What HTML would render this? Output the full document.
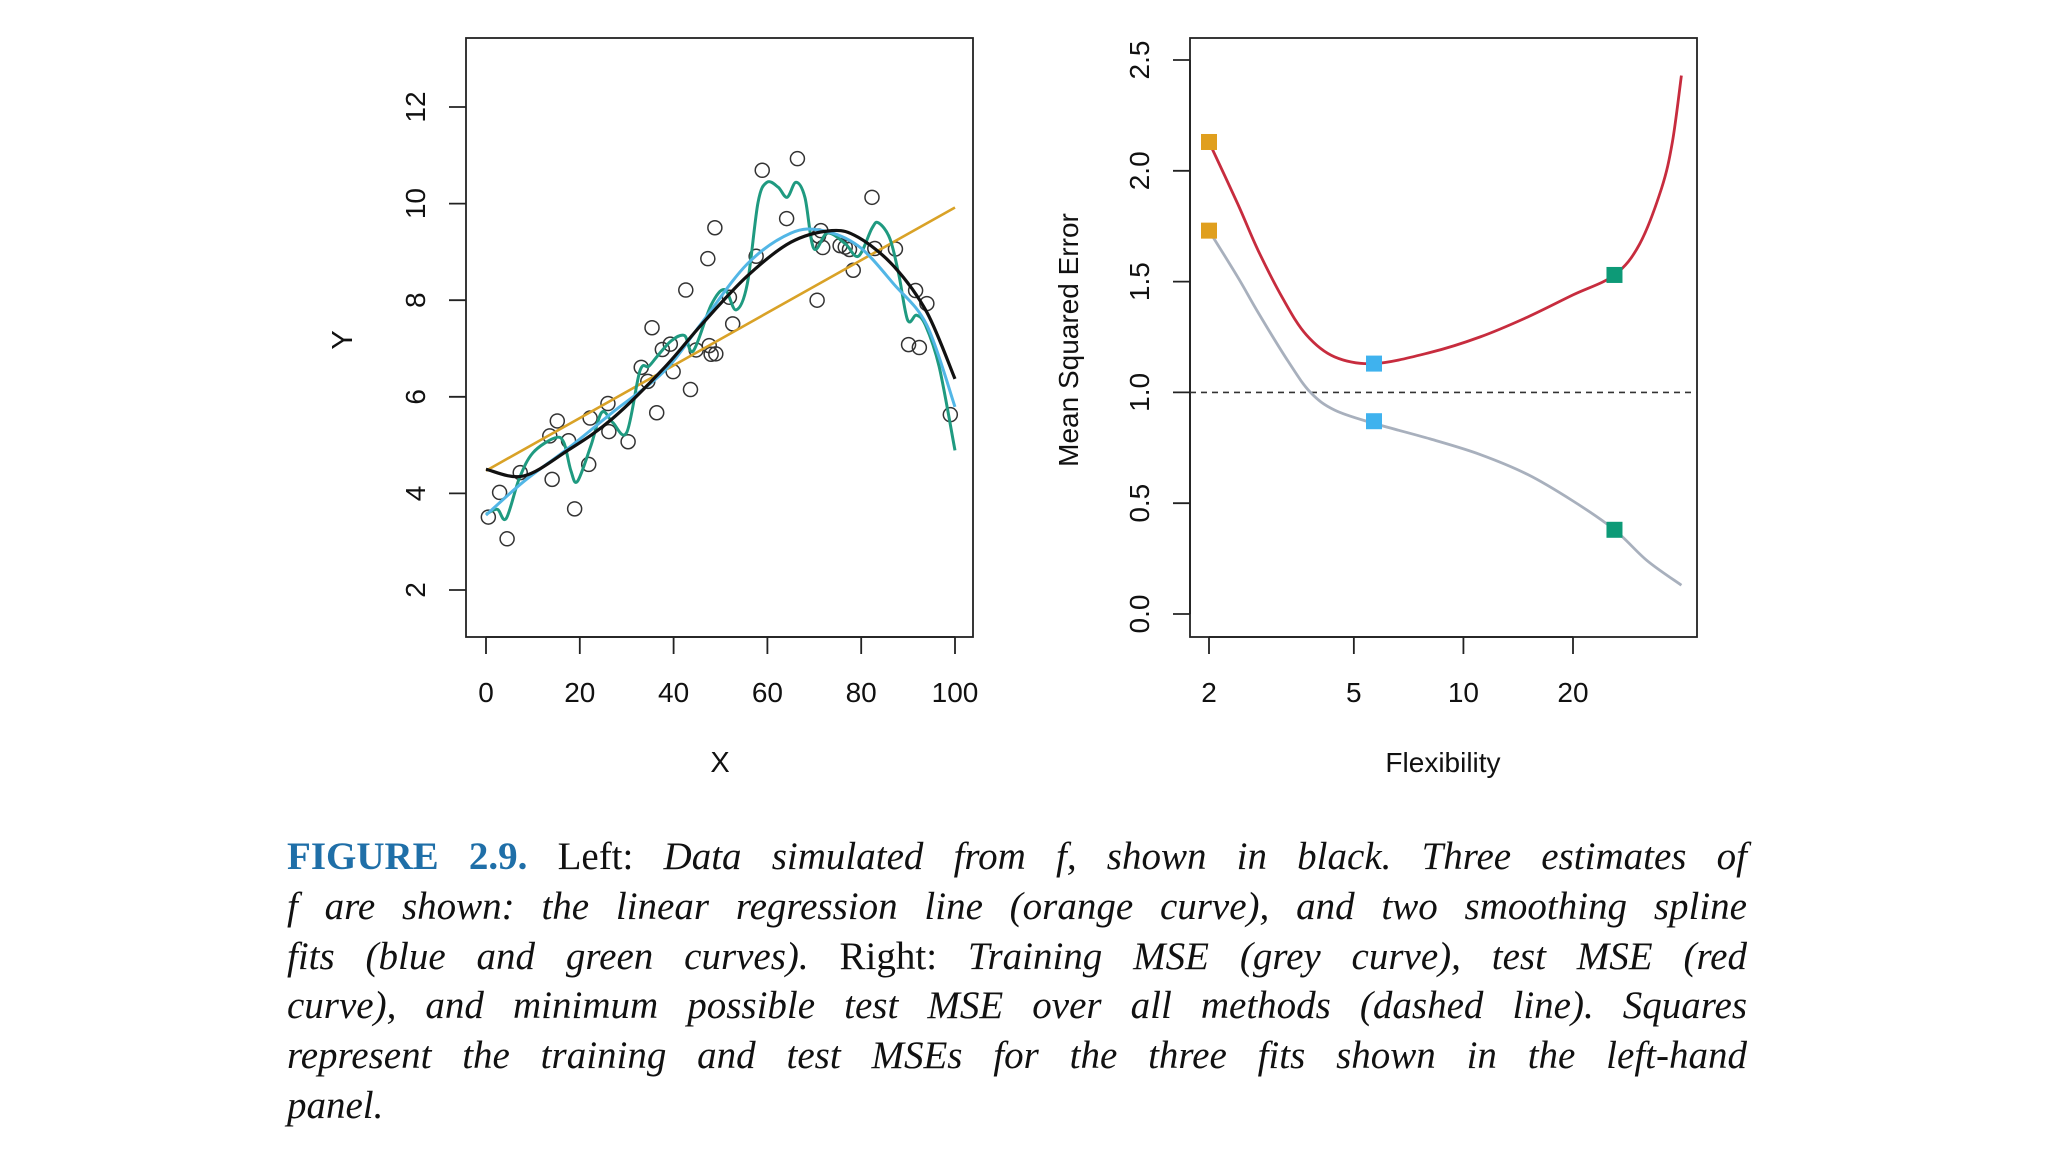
<!DOCTYPE html>
<html><head><meta charset="utf-8">
<style>
html,body{margin:0;padding:0;background:#fff;}
body{width:2048px;height:1152px;position:relative;overflow:hidden;}
svg{position:absolute;left:0;top:0;}
.cap{position:absolute;left:287px;width:1460px;font-family:"Liberation Serif",serif;font-size:39px;color:#111;}
.cap div{height:49.8px;line-height:49.8px;text-align:justify;text-align-last:justify;white-space:nowrap;}
.cap div.last{text-align-last:left;}
.cap i{font-style:italic;}
.fig{color:#1f6fa8;font-weight:bold;}
</style></head><body>
<svg id="chart" width="2048" height="1152"></svg>
<div class="cap" style="top:832px">
<div><span class="fig">FIGURE 2.9.</span> Left: <i>Data simulated from f, shown in black. Three estimates of</i></div>
<div><i>f are shown: the linear regression line (orange curve), and two smoothing spline</i></div>
<div><i>fits (blue and green curves).</i> Right: <i>Training MSE (grey curve), test MSE (red</i></div>
<div><i>curve), and minimum possible test MSE over all methods (dashed line). Squares</i></div>
<div><i>represent the training and test MSEs for the three fits shown in the left-hand</i></div>
<div class="last"><i>panel.</i></div>
</div>
<script>
// ---- Left panel data ----
const ptX=[0.5,2.9,4.5,7.3,13.6,14.1,15.2,17.6,18.9,21.9,22.2,26,26.2,30.3,33.1,34.5,35.4,36.4,37.6,39.3,39.9,42.6,43.6,44.8,47.3,47.6,48,48.8,49,51.9,52.6,57.6,58.9,64.1,66.4,70.6,70.9,71.4,71.8,75.5,76.6,77.5,78.3,82.3,82.9,87.3,90.1,91.6,92.4,94,99];
const ptY=[3.51,4.02,3.06,4.43,5.19,4.29,5.5,5.09,3.68,4.6,5.56,5.86,5.28,5.07,6.61,6.32,7.43,5.67,6.98,7.09,6.52,8.21,6.15,6.97,8.86,7.06,6.88,9.5,6.89,8.06,7.51,8.91,10.69,9.69,10.93,8.0,9.33,9.44,9.09,9.13,9.1,9.05,8.62,10.13,9.07,9.06,7.08,8.2,7.02,7.93,5.63];
const trueX=[0,8,17.6,27,38,46,55.7,65,73.7,79.4,87,94,100];
const trueY=[4.5,4.36,4.9,5.55,6.6,7.5,8.5,9.2,9.44,9.3,8.7,7.75,6.37];
const linX=[0,100];
const linY=[4.47,9.92];
const blueX=[0,8.1,17.6,27,38,46,55.7,65,71.8,79.4,87,94,100];
const blueY=[3.55,4.25,4.94,5.68,6.53,7.53,8.75,9.39,9.44,9.12,8.33,7.48,5.79];
const greenX=[0,2.4,4.3,7.1,10,14.7,16.6,18.1,19.5,22.4,24.7,27,30,32.8,34.7,36.6,39.5,42.3,44.2,48,50.9,53.3,55.7,58,59.9,62.3,64.2,66.1,68,69.9,72.8,76.6,79.4,82.3,83.7,86.1,88,89.9,91.8,93.7,96.6,100];
const greenY=[3.57,3.67,3.48,4.31,4.84,5.15,5.05,4.47,4.25,5.0,5.68,5.47,5.26,6.53,6.63,6.85,7.16,7.27,6.95,7.9,8.22,7.8,8.33,10.02,10.44,10.34,10.13,10.44,10.13,9.07,9.39,9.17,8.91,9.49,9.6,9.28,8.54,7.59,7.69,7.48,6.63,4.89];
const leftXTicks=[0,20,40,60,80,100];
const leftYTicks=[2,4,6,8,10,12];
// ---- Right panel data ----
const testDf=[2,2.4,2.73,3.2,3.7,4.43,5.68,8.1,11.1,15,20,26,30.5,35,37.5,39.7];
const testMse=[2.13,1.85,1.64,1.42,1.26,1.16,1.13,1.18,1.25,1.34,1.44,1.53,1.67,1.92,2.13,2.43];
const trainDf=[2,2.4,2.73,3.3,3.8,4.43,5.68,8.1,11.1,15,20,26,32,39.7];
const trainMse=[1.73,1.52,1.36,1.14,1.0,0.92,0.86,0.79,0.72,0.63,0.51,0.38,0.24,0.13];
const sqDf=[2,5.68,26];
const sqTest=[2.13,1.13,1.53];
const sqTrain=[1.73,0.87,0.38];
const sqColors=['#e09f1e','#3fb2ee','#0d9a77'];
const minMse=[1.0];
const rightXTicks=[2,5,10,20];
const rightYTicks=[0.0,0.5,1.0,1.5,2.0,2.5];

const NS='http://www.w3.org/2000/svg';
const svg=document.getElementById('chart');
function mk(tag,attrs,parent){const e=document.createElementNS(NS,tag);for(const k in attrs)e.setAttribute(k,attrs[k]);(parent||svg).appendChild(e);return e;}
function txt(s,x,y,size,rot,parent){const t=mk('text',{x:x,y:y,'font-family':'Liberation Sans, sans-serif','font-size':size,'text-anchor':'middle',fill:'#111'},parent);if(rot)t.setAttribute('transform','rotate(-90 '+x+' '+y+')');t.textContent=s;return t;}
function path(xs,ys,fx,fy){const P=xs.map((x,i)=>[fx(x),fy(ys[i])]);let d='M'+P[0][0].toFixed(1)+','+P[0][1].toFixed(1);
 for(let i=0;i<P.length-1;i++){const p0=P[Math.max(0,i-1)],p1=P[i],p2=P[i+1],p3=P[Math.min(P.length-1,i+2)];
 const c1=[p1[0]+(p2[0]-p0[0])/6,p1[1]+(p2[1]-p0[1])/6],c2=[p2[0]-(p3[0]-p1[0])/6,p2[1]-(p3[1]-p1[1])/6];
 d+=' C'+c1[0].toFixed(1)+','+c1[1].toFixed(1)+' '+c2[0].toFixed(1)+','+c2[1].toFixed(1)+' '+p2[0].toFixed(1)+','+p2[1].toFixed(1);}return d;}

// Left axes
const lx=v=>486+(v-0)*(955-486)/100;
const ly=v=>590-(v-2)*(590-107)/10;
const L=mk('g',{});


const lbox=mk('rect',{x:466,y:38,width:507,height:599,fill:'none',stroke:'#222','stroke-width':1.8},L);


mk('line',{x1:lx(0),x2:lx(100),y1:637,y2:637,stroke:'#222','stroke-width':1.8},L);
leftXTicks.forEach(v=>{mk('line',{x1:lx(v),x2:lx(v),y1:637,y2:654,stroke:'#222','stroke-width':1.8},L);
 const t=txt(String(v),lx(v),702,28,false,L);});
leftYTicks.forEach(v=>{mk('line',{x1:449,x2:466,y1:ly(v),y2:ly(v),stroke:'#222','stroke-width':1.8},L);
 const t=txt(String(v),425,ly(v),28,true,L);});
const xt=txt('X',720,772,29,false,L);
const yt=txt('Y',352,340,29,true,L);
ptX.forEach((x,i)=>{const c=mk('circle',{cx:lx(x),cy:ly(ptY[i]),r:7,fill:'none',stroke:'#333','stroke-width':1.5},L);
 });
const lin=mk('path',{d:path(linX,linY,lx,ly),fill:'none',stroke:'#d9a227','stroke-width':2.6},L);

const gr=mk('path',{d:path(greenX,greenY,lx,ly),fill:'none',stroke:'#1f9a80','stroke-width':3},L);

const bl=mk('path',{d:path(blueX,blueY,lx,ly),fill:'none',stroke:'#52b6e6','stroke-width':3},L);

const tf=mk('path',{d:path(trueX,trueY,lx,ly),fill:'none',stroke:'#111','stroke-width':3.2},L);


// Right axes
const rx=v=>1209+(Math.log10(v)-Math.log10(2))*364;
const ry=v=>614-v*221.6;
const R=mk('g',{});


const rbox=mk('rect',{x:1190,y:38,width:507,height:599,fill:'none',stroke:'#222','stroke-width':1.8},R);


mk('line',{x1:rx(2),x2:rx(20),y1:637,y2:637,stroke:'#222','stroke-width':1.8},R);
rightXTicks.forEach(v=>{mk('line',{x1:rx(v),x2:rx(v),y1:637,y2:654,stroke:'#222','stroke-width':1.8},R);
 const t=txt(String(v),rx(v),702,28,false,R);});
mk('line',{x1:1190,x2:1190,y1:ry(0),y2:ry(2.5),stroke:'#222','stroke-width':1.8},R);
rightYTicks.forEach(v=>{mk('line',{x1:1173,x2:1190,y1:ry(v),y2:ry(v),stroke:'#222','stroke-width':1.8},R);
 const t=txt(v.toFixed(1),1149,ry(v),28,true,R);});
const fx=txt('Flexibility',1443,772,28,false,R);
const my=txt('Mean Squared Error',1078,340,28,true,R);
const dl=mk('line',{x1:1190,x2:1697,y1:ry(minMse[0]),y2:ry(minMse[0]),stroke:'#333','stroke-width':1.6,'stroke-dasharray':'6,5'},R);

const trp=mk('path',{d:path(trainDf,trainMse,rx,ry),fill:'none',stroke:'#a8b0bd','stroke-width':2.8},R);

const tsp=mk('path',{d:path(testDf,testMse,rx,ry),fill:'none',stroke:'#c72c3e','stroke-width':2.8},R);

sqDf.forEach((d,i)=>{[sqTest[i],sqTrain[i]].forEach(v=>{const s=mk('rect',{x:rx(d)-8,y:ry(v)-8,width:16,height:16,fill:sqColors[i]},R);
 });});
</script>
</body></html>
